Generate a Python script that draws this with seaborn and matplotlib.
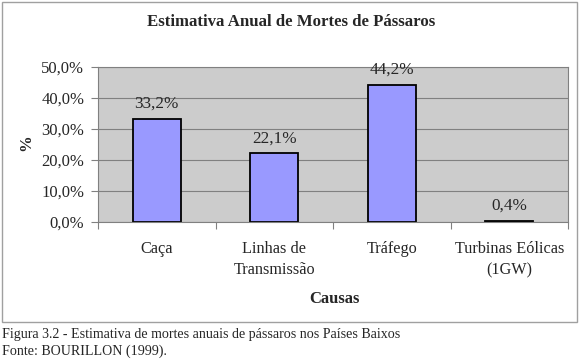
import matplotlib
matplotlib.use("Agg")
import matplotlib.pyplot as plt
import seaborn as sns
import pandas as pd
from matplotlib.patches import Rectangle

categories = ["Caça", "Linhas de\nTransmissão", "Tráfego", "Turbinas Eólicas\n(1GW)"]
values = [33.2, 22.1, 44.2, 0.4]
yticks = [0, 10, 20, 30, 40, 50]
ytick_labels = ["0,0%", "10,0%", "20,0%", "30,0%", "40,0%", "50,0%"]
value_labels = ["33,2%", "22,1%", "44,2%", "0,4%"]

sns.set_style("white")
plt.rcParams['font.family'] = ['Liberation Serif', 'DejaVu Serif']

df = pd.DataFrame({"Causa": categories, "Valor": values})

fig = plt.figure(figsize=(5.8, 3.6), dpi=100)
fig.patch.set_facecolor("white")
fig.patches.append(Rectangle((0.0034, 0.1042), 0.9916, 0.8898, transform=fig.transFigure,
                             fill=False, edgecolor="#a0a0a0", linewidth=1.0))

ax = fig.add_axes([0.169, 0.3833, 0.8103, 0.4306])
ax.set_facecolor("#cccccc")
sns.barplot(data=df, x="Causa", y="Valor", ax=ax, color="#9999ff", width=0.41,
            edgecolor="black", linewidth=1.3, saturation=1)
ax.set_ylim(0, 50)
ax.set_xlim(-0.5, 3.5)
ax.set_yticks(yticks)
ax.set_yticklabels(ytick_labels, fontsize=12)
ax.set_xticks(range(len(categories)))
ax.set_xticklabels(categories, fontsize=11.7, linespacing=1.38, va="top")
ax.set_xticks([-0.5, 0.5, 1.5, 2.5, 3.5], minor=True)
ax.yaxis.grid(True, color="#808080", linewidth=0.8)
ax.set_axisbelow(True)
for s in ax.spines.values():
    s.set_color("#808080")
    s.set_linewidth(0.8)
ax.tick_params(axis="y", length=5, color="#808080", pad=5, left=True, width=0.8)
ax.tick_params(axis="x", which="major", length=0, pad=14)
ax.tick_params(axis="x", which="minor", length=5, color="#808080", bottom=True, width=0.8)
for i, (v, lab) in enumerate(zip(values, value_labels)):
    ax.text(i, v + 2.3, lab, ha="center", va="bottom", fontsize=12.3)
ax.set_xlabel("")
ax.set_ylabel("")

fig.text(0.502, 0.939, "Estimativa Anual de Mortes de Pássaros", ha="center", va="center",
         fontsize=12.1, fontweight="bold")
fig.text(0.045, 0.603, "%", ha="center", va="center", rotation=90, fontsize=12, fontweight="bold")
fig.text(0.576, 0.170, "Causas", ha="center", va="center", fontsize=12, fontweight="bold")
fig.text(0.004, 0.072, "Figura 3.2 - Estimativa de mortes anuais de pássaros nos Países Baixos",
         ha="left", va="center", fontsize=10.1)
fig.text(0.004, 0.025, "Fonte: BOURILLON (1999).", ha="left", va="center", fontsize=10.1)

fig.savefig("out.png", dpi=100, facecolor="white")
